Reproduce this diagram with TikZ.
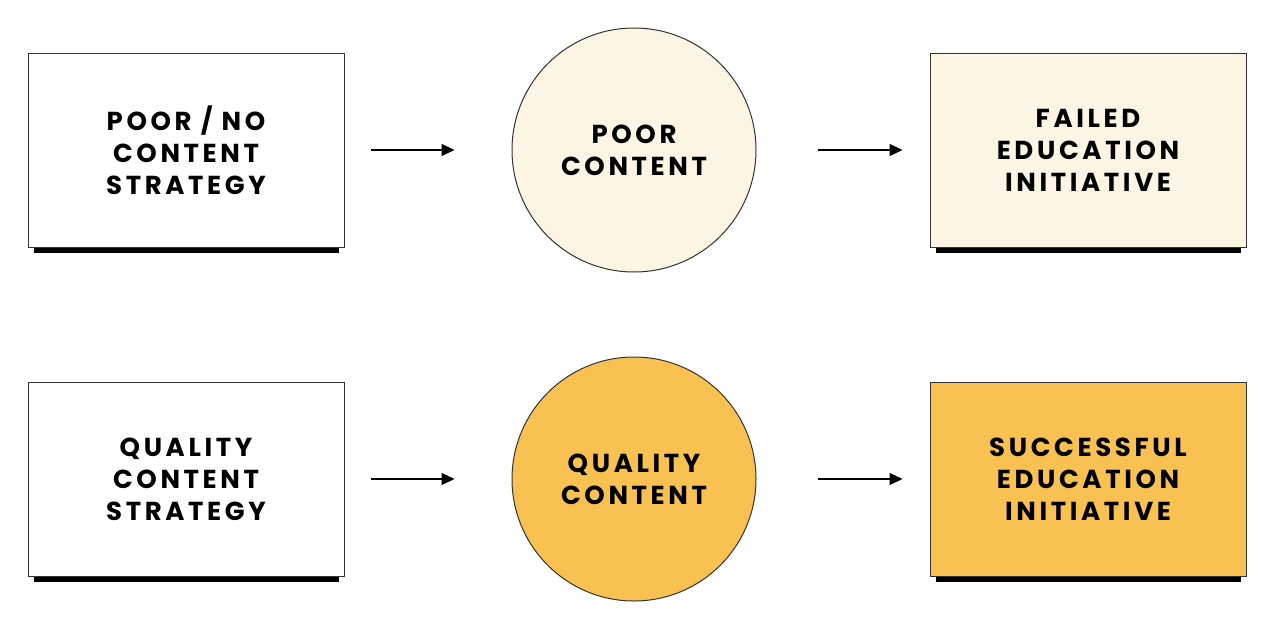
\documentclass[tikz,border=0pt]{standalone}
\usepackage{fontspec}
\setmainfont{Poppins}[LetterSpace=14]
\usetikzlibrary{arrows.meta}
\definecolor{cream}{HTML}{FDF5E4}
\definecolor{gold}{HTML}{F9C152}
\definecolor{edge}{HTML}{333333}
\tikzset{
  x=1pt, y=-1pt,
  lbl/.style={font=\fontsize{26}{32}\selectfont\bfseries, align=center, text=black},
  boxnode/.style={lbl, draw=edge, line width=1pt, minimum width=316pt, minimum height=194pt, inner sep=0pt},
  circnode/.style={lbl, draw=edge, line width=1pt, circle, minimum size=244pt, inner sep=0pt},
  flow/.style={line width=1.3pt, -{Triangle[length=13pt,width=12pt]}},
  flowa/.style={flow, shorten <=26pt, shorten >=57pt},
  flowb/.style={flow, shorten <=61pt, shorten >=27pt},
}
\begin{document}
\begin{tikzpicture}
\useasboundingbox (0,0) rectangle (1280,637);
\fill[white] (0,0) rectangle (1280,637);
% top row
\fill[black] (34,247) rectangle (339,253);
\fill[black] (936,247) rectangle (1241,253);
\node[boxnode, fill=white] (a1) at (186,150) {POOR / NO\\CONTENT\\STRATEGY};
\node[circnode, fill=cream] (b1) at (634,150) {POOR\\CONTENT};
\node[boxnode, fill=cream] (c1) at (1088,150) {FAILED\\EDUCATION\\INITIATIVE};
% bottom row
\fill[black] (34,576) rectangle (339,582);
\fill[black] (936,576) rectangle (1241,582);
\node[boxnode, fill=white] (a2) at (186,479) {QUALITY\\CONTENT\\STRATEGY};
\node[circnode, fill=gold] (b2) at (634,479) {QUALITY\\CONTENT};
\node[boxnode, fill=gold] (c2) at (1088,479) {SUCCESSFUL\\EDUCATION\\INITIATIVE};
% arrows
\draw[flowa] (a1.east) -- (b1.west);
\draw[flowb] (b1.east) -- (c1.west);
\draw[flowa] (a2.east) -- (b2.west);
\draw[flowb] (b2.east) -- (c2.west);
\end{tikzpicture}
\end{document}
